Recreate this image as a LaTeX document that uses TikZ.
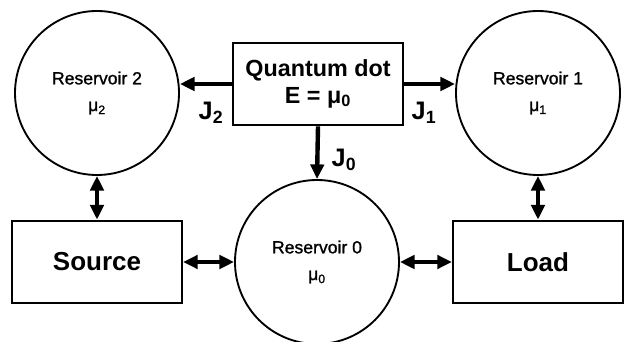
\documentclass[tikz,border=0pt]{standalone}
\usepackage{fontspec}
\setmainfont{Liberation Sans}
\newfontfamily\resfont[FakeBold=1.2]{Liberation Sans}
\usetikzlibrary{arrows.meta,positioning}

\begin{document}
\begin{tikzpicture}[
    x=0.75pt, y=-0.75pt,
    res/.style={draw, circle, line width=1.4pt, minimum size=123pt, inner sep=0pt, align=center, font=\resfont\fontsize{13.2}{20}\selectfont},
    block/.style={draw, line width=1.6pt, minimum width=127.5pt, minimum height=62pt, inner sep=0pt, align=center, font=\bfseries\fontsize{17.5}{20}\selectfont},
    bigblock/.style={block, font=\bfseries\fontsize{19.5}{22}\selectfont},
    flux/.style={font=\bfseries\fontsize{19}{20}\selectfont, inner sep=0pt},
    arrow/.style={-{Triangle[length=11pt,width=10pt]}, line width=3.3pt},
    twoway/.style={{Triangle[length=11pt,width=10pt]}-{Triangle[length=11pt,width=10pt]}, line width=3.3pt}
]
\useasboundingbox (0,0) rectangle (626,342);

\node[block] (qd) at (318,84) {Quantum dot\\E = μ\textsubscript{0}};
\node[res] (res2) at (97,93) {Reservoir 2\\μ\textsubscript{2}};
\node[res] (res1) at (538,93) {Reservoir 1\\μ\textsubscript{1}};
\node[res] (res0) at (317,262) {Reservoir 0\\μ\textsubscript{0}};
\node[bigblock] (source) at (97,262) {Source};
\node[bigblock] (load) at (538,262) {Load};

\draw[arrow] (qd.west) -- (res2.east |- qd.west);
\draw[arrow] (qd.east) -- (res1.west |- qd.east);
\draw[arrow] (qd.south) -- (res0.north);
\node[flux] (j2) at (211,113) {J\textsubscript{2}};
\node[flux] (j1) at (424,113) {J\textsubscript{1}};
\node[flux] (j0) at (344,160) {J\textsubscript{0}};

\draw[twoway] (res2.south) -- (source.north);
\draw[twoway] (res1.south) -- (load.north);
\draw[twoway] (source.east) -- (res0.west);
\draw[twoway] (res0.east) -- (load.west);
\end{tikzpicture}
\end{document}
